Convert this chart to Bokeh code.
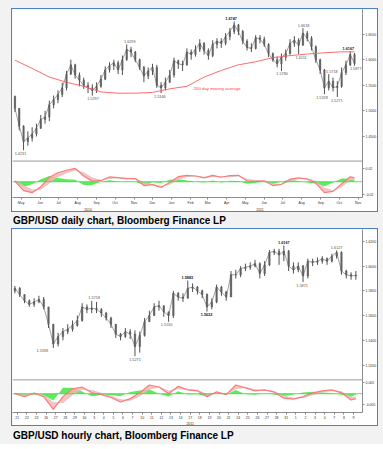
import pandas as pd
from bokeh.plotting import figure
from bokeh.models import Range1d, LinearAxis, FixedTicker, Span, Label, Div, ColumnDataSource
from bokeh.layouts import column
from bokeh.embed import file_html
from bokeh.resources import INLINE
from bokeh.core.properties import value

FONT = "Liberation Sans"
BAR = "#505050"
BLUE = "#4f81bd"

# ================= Daily chart (weekly OHLC) =================
daily_week_start = "2010-05-05"
daily_origin = "2010-05-01"
daily_first_open = 1.528
daily_close = [
    1.505, 1.470, 1.440, 1.447, 1.455, 1.466, 1.483, 1.488, 1.512, 1.522,
    1.532, 1.545, 1.572, 1.590, 1.570, 1.560, 1.550, 1.545, 1.540, 1.548,
    1.562, 1.580, 1.588, 1.594, 1.580, 1.600, 1.620, 1.615, 1.600, 1.585,
    1.568, 1.578, 1.585, 1.550, 1.545, 1.556, 1.570, 1.598, 1.592, 1.590,
    1.615, 1.610, 1.620, 1.632, 1.618, 1.608, 1.630, 1.636, 1.632, 1.645,
    1.655, 1.668, 1.655, 1.636, 1.624, 1.622, 1.643, 1.640, 1.630, 1.612,
    1.600, 1.592, 1.605, 1.612, 1.632, 1.638, 1.628, 1.652, 1.642, 1.625,
    1.600, 1.580, 1.545, 1.558, 1.545, 1.548, 1.575, 1.590, 1.610, 1.5925]
daily_high = [
    1.530, 1.505, 1.472, 1.460, 1.468, 1.475, 1.492, 1.500, 1.520, 1.530,
    1.540, 1.555, 1.578, 1.600, 1.592, 1.575, 1.565, 1.556, 1.552, 1.556,
    1.570, 1.587, 1.595, 1.600, 1.598, 1.608, 1.6299, 1.625, 1.617, 1.602,
    1.588, 1.585, 1.592, 1.590, 1.556, 1.565, 1.580, 1.604, 1.600, 1.598,
    1.622, 1.620, 1.628, 1.640, 1.634, 1.622, 1.638, 1.642, 1.642, 1.652,
    1.662, 1.6747, 1.670, 1.658, 1.640, 1.632, 1.648, 1.648, 1.645, 1.632,
    1.614, 1.606, 1.612, 1.620, 1.640, 1.646, 1.642, 1.6618, 1.656, 1.646,
    1.628, 1.602, 1.582, 1.5718, 1.565, 1.558, 1.585, 1.598, 1.6167, 1.613]
daily_low = [
    1.498, 1.462, 1.4231, 1.432, 1.440, 1.450, 1.465, 1.475, 1.480, 1.505,
    1.515, 1.527, 1.540, 1.570, 1.563, 1.548, 1.543, 1.535, 1.5297, 1.535,
    1.545, 1.560, 1.575, 1.580, 1.572, 1.570, 1.598, 1.605, 1.595, 1.580,
    1.556, 1.562, 1.570, 1.545, 1.5346, 1.540, 1.555, 1.565, 1.582, 1.578,
    1.588, 1.600, 1.606, 1.615, 1.610, 1.600, 1.605, 1.622, 1.623, 1.628,
    1.638, 1.650, 1.648, 1.630, 1.618, 1.615, 1.620, 1.632, 1.625, 1.605,
    1.596, 1.585, 1.578, 1.598, 1.610, 1.625, 1.6111, 1.628, 1.636, 1.618,
    1.594, 1.572, 1.5328, 1.540, 1.538, 1.5271, 1.545, 1.570, 1.5877, 1.588]

# 200 day moving average, sampled every 4 weeks
ma_week = [0, 4, 8, 12, 16, 20, 24, 28, 32, 36, 40, 44, 48, 52, 56, 60, 64, 68, 72, 76, 79]
ma_value = [1.599, 1.583, 1.566, 1.556, 1.548, 1.537, 1.5346, 1.5346, 1.536, 1.543, 1.548,
            1.566, 1.579, 1.590, 1.596, 1.604, 1.608, 1.611, 1.6135, 1.6154, 1.6154]

# MACD style indicator, sampled every 2 weeks
d_ind_week = list(range(0, 80, 2)) + [79]
d_macd = [0.001, -0.014, -0.017, -0.008, 0.007, 0.014, 0.018, 0.021, 0.009, 0.001,
          0.002, 0.0075, 0.0065, 0.005, 0.005, -0.006, -0.0046, -0.009, -0.001, 0.008,
          0.010, 0.009, 0.006, 0.010, 0.007, 0.0095, 0.010, 0.001, 0.0005, 0.0015,
          -0.006, -0.004, 0.004, 0.006, 0.004, -0.002, -0.017, -0.015, -0.003, 0.0077, 0.006]
d_signal = [0.002, -0.006, -0.013, -0.012, -0.002, 0.008, 0.014, 0.018, 0.014, 0.006,
            0.002, 0.005, 0.006, 0.0055, 0.005, -0.001, -0.004, -0.007, -0.004, 0.004,
            0.008, 0.009, 0.007, 0.008, 0.008, 0.008, 0.009, 0.004, 0.002, 0.001,
            -0.003, -0.004, 0.001, 0.005, 0.005, 0.001, -0.010, -0.014, -0.008, 0.003, 0.004]

daily_months = ["May", "Jun", "Jul", "Aug", "Sep", "Oct", "Nov", "Dec", "Jan", "Feb",
                "Mar", "Apr", "May", "Jun", "Jul", "Aug", "Sep", "Oct", "Nov"]
daily_years = ["2010", "2011"]
daily_year_date = ["2010-09-01", "2011-06-08"]
daily_price_ticks = [1.45, 1.50, 1.55, 1.60, 1.65]
daily_ind_ticks = [0.02, -0.02]
daily_ind_tick_labels = ["0.02", "-0.02"]

daily_mark_date = ["2010-05-14", "2010-09-09", "2010-11-08", "2010-12-27", "2011-04-22",
                   "2011-07-14", "2011-08-14", "2011-08-18", "2011-09-17", "2011-10-03",
                   "2011-10-11", "2011-10-30", "2011-11-11"]
daily_mark_text = ["1.4231", "1.5297", "1.6299", "1.5346", "1.6747", "1.5780", "1.6111",
                   "1.6618", "1.5328", "1.5718", "1.5271", "1.6167", "1.5877"]
daily_mark_above = [False, False, True, False, True, False, False, True, False, True,
                    False, True, False]
daily_mark_bold = [False, False, False, False, True, False, False, False, False, False,
                   False, True, False]
ma_caption = "200 day moving average"
ma_caption_date = "2011-02-20"
ma_caption_price = 1.5442
daily_separator = 1.40192

# ================= Hourly chart (half-day OHLC) =================
hourly_first_open = 1.580
hourly_close = [
    1.582, 1.577, 1.572, 1.569, 1.571, 1.573, 1.567, 1.553, 1.537, 1.543,
    1.547, 1.549, 1.552, 1.556, 1.567, 1.565, 1.566, 1.565, 1.562, 1.558,
    1.553, 1.545, 1.543, 1.547, 1.545, 1.535, 1.544, 1.555, 1.560, 1.567,
    1.568, 1.563, 1.560, 1.578, 1.575, 1.574, 1.582, 1.583, 1.580, 1.577,
    1.567, 1.571, 1.583, 1.579, 1.575, 1.593, 1.593, 1.598, 1.599, 1.600,
    1.602, 1.594, 1.601, 1.611, 1.612, 1.609, 1.612, 1.600, 1.597, 1.600,
    1.592, 1.604, 1.603, 1.604, 1.606, 1.604, 1.608, 1.611, 1.596, 1.593,
    1.592, 1.5925]
hourly_high = [
    1.584, 1.583, 1.577, 1.573, 1.574, 1.576, 1.575, 1.567, 1.553, 1.546,
    1.550, 1.553, 1.556, 1.560, 1.570, 1.569, 1.5718, 1.571, 1.566, 1.563,
    1.559, 1.553, 1.546, 1.550, 1.549, 1.548, 1.547, 1.558, 1.564, 1.570,
    1.572, 1.568, 1.563, 1.580, 1.579, 1.578, 1.5883, 1.586, 1.584, 1.581,
    1.578, 1.574, 1.585, 1.584, 1.580, 1.596, 1.597, 1.600, 1.602, 1.603,
    1.605, 1.603, 1.604, 1.613, 1.614, 1.614, 1.6167, 1.613, 1.603, 1.603,
    1.601, 1.606, 1.606, 1.607, 1.608, 1.607, 1.610, 1.6127, 1.612, 1.597,
    1.595, 1.596]
hourly_low = [
    1.578, 1.575, 1.570, 1.567, 1.567, 1.570, 1.565, 1.550, 1.5338, 1.535,
    1.540, 1.545, 1.547, 1.551, 1.555, 1.562, 1.562, 1.562, 1.559, 1.556,
    1.550, 1.542, 1.540, 1.542, 1.541, 1.5271, 1.530, 1.543, 1.555, 1.560,
    1.564, 1.559, 1.5550, 1.558, 1.572, 1.571, 1.574, 1.579, 1.577, 1.574,
    1.5632, 1.565, 1.570, 1.576, 1.572, 1.575, 1.590, 1.591, 1.596, 1.597,
    1.599, 1.590, 1.592, 1.600, 1.609, 1.601, 1.604, 1.596, 1.594, 1.595,
    1.5871, 1.590, 1.600, 1.601, 1.602, 1.601, 1.603, 1.606, 1.593, 1.590,
    1.589, 1.589]
h_ind_bar = list(range(0, 72, 2)) + [71]
h_macd = [0.0, -0.0013, 0.0002, -0.0013, -0.007, -0.0013, 0.0022, 0.003, 0.0004, -0.0004,
          -0.0017, -0.0037, -0.0022, 0.0004, 0.0039, 0.003, 0.0, 0.0033, 0.0017, 0.0013,
          -0.0013, 0.0009, -0.0004, 0.0039, 0.0026, 0.0013, 0.0017, 0.0007, -0.002, -0.0024,
          -0.0013, 0.0004, 0.0013, 0.0017, 0.0004, -0.0028, -0.0022]
h_signal = [0.0003, -0.0005, -0.0004, -0.0006, -0.004, -0.004, -0.0005, 0.002, 0.0015, 0.0002,
            -0.001, -0.0027, -0.003, -0.001, 0.002, 0.003, 0.0012, 0.0022, 0.002, 0.0015,
            -0.0002, 0.0001, 0.0, 0.0022, 0.0028, 0.0018, 0.0016, 0.001, -0.001, -0.002,
            -0.0018, -0.0005, 0.0008, 0.0014, 0.0009, -0.0015, -0.0018]
hourly_days = ["21", "22", "23", "26", "27", "28", "29", "30",
               "3", "4", "5", "6", "7", "10", "11", "12", "13", "14", "17", "18", "19", "20",
               "21", "24", "25", "26", "27", "28", "31",
               "1", "2", "3", "4", "7", "8", "9"]
hourly_year = "2011"
hourly_price_ticks = [1.52, 1.54, 1.56, 1.58, 1.60, 1.62]
hourly_ind_ticks = [0.005, -0.005]
hourly_ind_tick_labels = ["0.005", "-0.005"]
hourly_mark_bar = [5.7, 16.5, 25, 31.6, 35.9, 39.9, 56, 59.8, 67]
hourly_mark_text = ["1.5338", "1.5718", "1.5271", "1.5550", "1.5883", "1.5632", "1.6167",
                    "1.5871", "1.6127"]
hourly_mark_above = [False, True, False, False, True, False, True, False, True]
hourly_mark_bold = [False, False, False, False, True, True, True, False, False]
hourly_separator = 1.508

captions = ["GBP/USD daily chart, Bloomberg Finance LP",
            "GBP/USD hourly chart, Bloomberg Finance LP"]

# ================= helpers =================
FRAME_W = 352


def to_price(v, yr, ir):
    return yr[0] + (v - ir[0]) / (ir[1] - ir[0]) * (yr[1] - yr[0])


def make_panel(height, xr, yr, ir, top_margin):
    p = figure(width=367, height=height, x_range=Range1d(*xr), y_range=Range1d(*yr),
               y_axis_location="right", toolbar_location=None, output_backend="svg",
               min_border_left=0, min_border_top=0, min_border_bottom=0, min_border_right=15,
               outline_line_color=None, background_fill_color="white",
               border_fill_color="white", styles={"border": "1px solid " + BLUE},
               margin=(top_margin, 3, 0, 11))
    p.extra_y_ranges = {"ind": Range1d(*ir)}
    p.xgrid.visible = False
    p.ygrid.visible = False
    for ax in (p.xaxis[0], p.yaxis[0]):
        ax.axis_line_color = "#8c8c8c"
        ax.major_tick_line_color = "#8c8c8c"
        ax.minor_tick_line_color = None
        ax.major_tick_out = 2
        ax.major_tick_in = 0
        ax.major_label_standoff = 1
        ax.major_label_text_font = FONT
        ax.major_label_text_font_size = "3.5px"
        ax.major_label_text_color = "#333333"
    return p


def draw_bars(p, x, first_open, high, low, close, width):
    opens = [first_open] + close[:-1]
    src = ColumnDataSource(dict(
        x=x, h=high, l=low, c=close,
        top=[max(o, c) for o, c in zip(opens, close)],
        bot=[min(o, c) for o, c in zip(opens, close)]))
    p.line(x="x", y="c", source=src, line_color="#8a8a8a", line_width=0.8)
    p.segment(x0="x", y0="l", x1="x", y1="h", source=src, line_color=BAR, line_width=1)
    p.vbar(x="x", width=width, top="top", bottom="bot", fill_color="#6a6a6a",
           line_color=BAR, line_width=0.5, source=src)


def draw_indicator(p, x, macd, signal, yr, ir):
    hist = [m - s for m, s in zip(macd, signal)]
    src = ColumnDataSource(dict(x=x, m=macd, s=signal, h=hist, z=[0.0] * len(x)))
    p.add_layout(Span(location=to_price(0.0, yr, ir), dimension="width",
                      line_color="#3fd43f", line_width=0.8))
    p.varea(x="x", y1="z", y2="h", fill_color="#3ee83e", fill_alpha=0.85,
            source=src, y_range_name="ind")
    p.varea(x="x", y1="m", y2="s", fill_color="#ffb0b0", fill_alpha=0.8,
            source=src, y_range_name="ind")
    p.line(x="x", y="s", line_color="#c8c8c8", line_width=0.8, source=src, y_range_name="ind")
    p.line(x="x", y="m", line_color="#ff7a7a", line_width=1.2, source=src, y_range_name="ind")
    return hist


def right_axis(p, price_ticks, ind_ticks, ind_labels, yr, ir):
    ind_pos = [to_price(v, yr, ir) for v in ind_ticks]
    ax = p.yaxis[0]
    ax.ticker = FixedTicker(ticks=list(price_ticks) + ind_pos)
    overrides = {t: f"{t:.4f}" for t in price_ticks}
    overrides.update({pp: lab for pp, lab in zip(ind_pos, ind_labels)})
    ax.major_label_overrides = overrides


def year_axis(p, pos, labels):
    ax = LinearAxis(ticker=FixedTicker(ticks=pos),
                    major_label_overrides={a: b for a, b in zip(pos, labels)},
                    axis_line_color=None, major_tick_line_color=None,
                    minor_tick_line_color=None, major_tick_out=0, major_tick_in=0,
                    major_label_standoff=0, major_label_text_font=FONT,
                    major_label_text_font_size="3.5px", major_label_text_color="#333333")
    p.add_layout(ax, "below")


def marks(p, xs, texts, above, bold):
    for up in (True, False):
        for b in (True, False):
            idx = [i for i in range(len(texts)) if above[i] == up and bold[i] == b]
            if not idx:
                continue
            p.text(x=[xs[i] for i in idx], y=[float(texts[i]) for i in idx],
                   text=[texts[i] for i in idx], text_font=value(FONT),
                   text_font_size="3.8px", text_align="center",
                   text_baseline="bottom" if up else "top",
                   y_offset=-1.5 if up else 1.5,
                   text_font_style="bold" if b else "normal",
                   text_color="#111111" if b else "#555555")


def box(p, y, text, fill, color, border):
    p.add_layout(Label(x=FRAME_W + 1, x_units="screen", y=y, y_units="data", text=text,
                       text_font=FONT, text_font_size="3.5px", text_baseline="middle",
                       text_color=color, background_fill_color=fill,
                       border_line_color=border, border_line_width=0.6))


# ================= panel 1: daily =================
origin = pd.Timestamp(daily_origin)
d_dates = pd.date_range(daily_week_start, periods=len(daily_close), freq="7D")
d_x = [float((d - origin).days) for d in d_dates]
yr1, ir1 = (1.33077, 1.69808), (-0.024615, 0.26923)
p1 = make_panel(204, (0, 570), yr1, ir1, 8)
p1.add_layout(Span(location=daily_separator, dimension="width", line_color="#9a9a9a", line_width=1))
draw_bars(p1, d_x, daily_first_open, daily_high, daily_low, daily_close, 2.2)
p1.line(x=[d_x[k] for k in ma_week], y=ma_value, line_color="#ff5a5a", line_width=0.9)
p1.text(x=[float((pd.Timestamp(ma_caption_date) - origin).days)], y=[ma_caption_price],
        text=[ma_caption], text_font=value(FONT), text_font_size="4.3px",
        text_align="left", text_baseline="middle", text_color="#ff3c3c")
marks(p1, [float((pd.Timestamp(d) - origin).days) for d in daily_mark_date],
      daily_mark_text, daily_mark_above, daily_mark_bold)
d_hist = draw_indicator(p1, [d_x[k] for k in d_ind_week], d_macd, d_signal, yr1, ir1)
right_axis(p1, daily_price_ticks, daily_ind_ticks, daily_ind_tick_labels, yr1, ir1)
month_pos = [float((m + pd.Timedelta(days=14) - origin).days)
             for m in pd.date_range(daily_origin, periods=len(daily_months), freq="MS")]
p1.xaxis[0].ticker = FixedTicker(ticks=month_pos)
p1.xaxis[0].major_label_overrides = {a: b for a, b in zip(month_pos, daily_months)}
year_axis(p1, [float((pd.Timestamp(d) - origin).days) for d in daily_year_date], daily_years)
box(p1, ma_value[-1], f"{ma_value[-1]:.4f}", "#ff2a2a", "white", "#ff2a2a")
box(p1, daily_close[-1], f"{daily_close[-1]:.4f}", "white", "#222222", "#555555")
box(p1, to_price(d_macd[-1], yr1, ir1), f"{d_macd[-1]:.4f}", "#ff4040", "white", "#ff4040")
box(p1, to_price(d_hist[-1], yr1, ir1), f"{d_hist[-1]:.4f}", "#22d022", "white", "#22d022")

# ================= panel 2: hourly =================
h_x = list(range(len(hourly_close)))
yr2, ir2 = (1.4816, 1.6296), (-0.0084, 0.07345)
p2 = make_panel(198, (-0.5, 72.38), yr2, ir2, 0)
p2.add_layout(Span(location=hourly_separator, dimension="width", line_color="#9a9a9a", line_width=1))
draw_bars(p2, h_x, hourly_first_open, hourly_high, hourly_low, hourly_close, 0.3)
marks(p2, hourly_mark_bar, hourly_mark_text, hourly_mark_above, hourly_mark_bold)
h_hist = draw_indicator(p2, h_ind_bar, h_macd, h_signal, yr2, ir2)
right_axis(p2, hourly_price_ticks, hourly_ind_ticks, hourly_ind_tick_labels, yr2, ir2)
day_pos = [2 * d + 0.5 for d in range(len(hourly_days))]
p2.xaxis[0].ticker = FixedTicker(ticks=day_pos)
p2.xaxis[0].major_label_overrides = {a: b for a, b in zip(day_pos, hourly_days)}
year_axis(p2, [day_pos[len(day_pos) // 2]], [hourly_year])
box(p2, hourly_close[-1], f"{hourly_close[-1]:.4f}", "white", "#222222", "#555555")
box(p2, to_price(h_hist[-1], yr2, ir2), f"{h_hist[-1]:.4f}", "#22d022", "white", "#22d022")
box(p2, to_price(h_macd[-1], yr2, ir2), f"{h_macd[-1]:.4f}", "#ff4040", "white", "#ff4040")


def caption(text, height, pad):
    return Div(text=f'<div style="padding-top:{pad}px;font-family:\'Liberation Sans\',Arial,sans-serif;'
                    f'font-size:10px;font-weight:bold;color:#000;white-space:nowrap;line-height:1.15">{text}</div>',
               width=360, height=height, margin=(0, 10, 0, 13))


layout = column(p1, caption(captions[0], 16, 3), p2, caption(captions[1], 18, 4),
                styles={"background-color": "#f2f2f2"})

open("out.html", "w").write(file_html(layout, INLINE))
